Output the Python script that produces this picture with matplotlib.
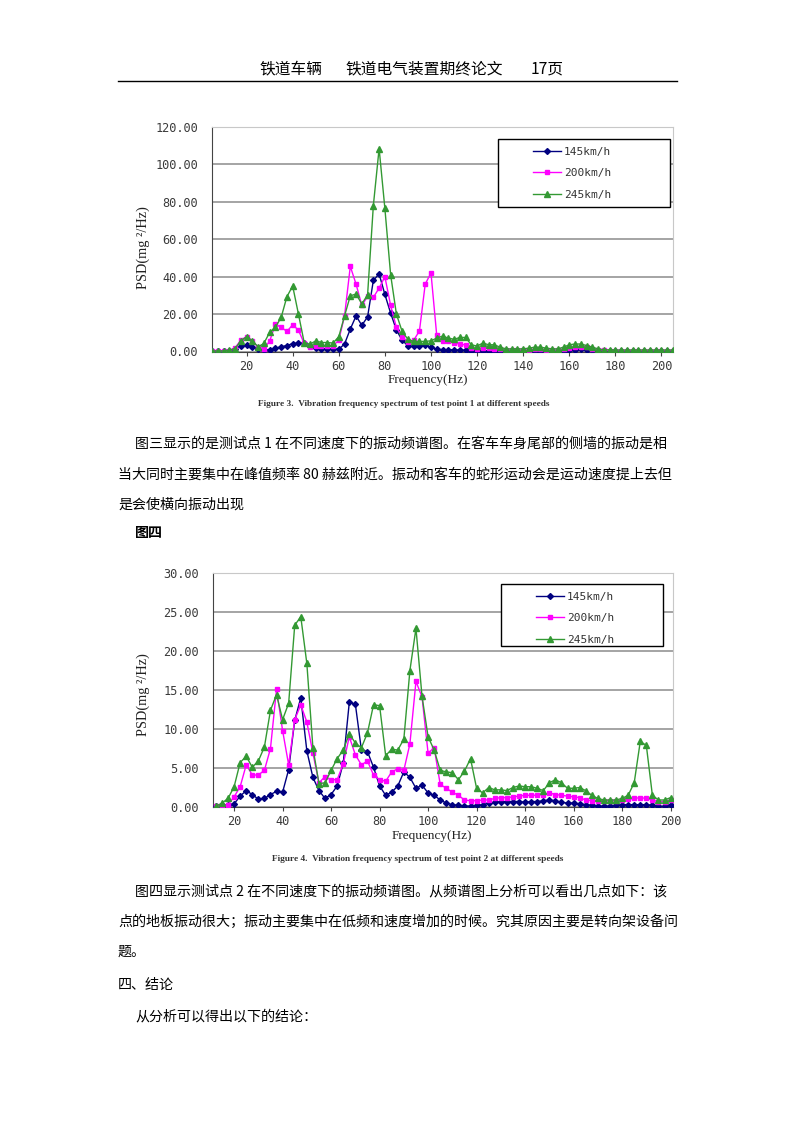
import matplotlib
matplotlib.use("Agg")
import matplotlib.pyplot as plt
from matplotlib.patches import Rectangle

plt.rcParams['font.family'] = ['Noto Sans CJK SC', 'DejaVu Sans']

W, H = 794, 1123

# ---- data: figure 3 (test point 1) ----
freq1 = [5.0, 7.5, 10.0, 12.5, 15.0, 17.5, 20.0, 22.5, 25.0, 27.5,
         30.0, 32.5, 35.0, 37.5, 40.0, 42.5, 45.0, 47.5, 50.0, 52.5,
         55.0, 57.5, 60.0, 62.5, 65.0, 67.5, 70.0, 72.5, 75.0, 77.5,
         80.0, 82.5, 85.0, 87.5, 90.0, 92.5, 95.0, 97.5, 100.0, 102.5,
         105.0, 107.5, 110.0, 112.5, 115.0, 117.5, 120.0, 122.5, 125.0, 127.5,
         130.0, 132.5, 135.0, 137.5, 140.0, 142.5, 145.0, 147.5, 150.0, 152.5,
         155.0, 157.5, 160.0, 162.5, 165.0, 167.5, 170.0, 172.5, 175.0, 177.5,
         180.0, 182.5, 185.0, 187.5, 190.0, 192.5, 195.0, 197.5, 200.0, 202.5, 205.0]
p1_145 = [0.2, 0.2, 0.2, 0.3, 1.5, 3.0, 3.5, 2.5, 1.2, 0.8,
          1.0, 1.8, 2.5, 3.2, 4.2, 4.5, 4.3, 2.8, 1.8, 1.5,
          1.5, 1.2, 1.2, 4.0, 12.0, 19.0, 14.0, 18.5, 38.0, 41.5,
          30.5, 20.5, 11.5, 6.0, 3.0, 2.7, 2.7, 3.5, 2.2, 1.2,
          1.0, 1.0, 0.8, 0.8, 0.6, 0.5, 0.5, 0.5, 0.4, 0.4,
          0.4, 0.3, 0.3, 0.3, 0.3, 0.4, 0.5, 0.5, 0.4, 0.3,
          0.3, 0.5, 0.8, 1.0, 1.1, 1.0, 0.8, 0.5, 0.4, 0.3,
          0.3, 0.3, 0.3, 0.2, 0.2, 0.2, 0.2, 0.2, 0.2, 0.2, 0.2]
p1_200 = [0.3, 0.3, 0.3, 0.5, 2.0, 6.0, 8.0, 5.5, 2.5, 1.5,
          5.5, 14.5, 13.0, 10.7, 14.3, 11.4, 4.3, 2.5, 3.0, 3.0,
          3.0, 3.0, 6.0, 19.0, 45.5, 36.0, 24.6, 29.4, 28.9, 33.9,
          40.0, 24.6, 12.9, 8.0, 5.0, 6.0, 11.0, 36.0, 42.0, 8.6,
          5.7, 5.5, 4.5, 4.0, 3.5, 2.0, 1.5, 2.0, 1.8, 1.5,
          1.2, 1.0, 0.8, 0.8, 0.8, 1.0, 1.2, 1.2, 1.0, 0.8,
          0.8, 1.2, 2.0, 2.5, 2.5, 2.5, 1.5, 1.0, 0.8, 0.5,
          0.5, 0.5, 0.5, 0.5, 0.5, 0.5, 0.5, 0.5, 0.5, 0.5, 0.5]
p1_245 = [0.3, 0.3, 0.3, 0.8, 1.5, 5.7, 7.9, 5.7, 2.5, 4.3,
          10.2, 13.0, 18.2, 29.3, 35.0, 20.0, 4.8, 3.9, 5.7, 4.8,
          4.8, 4.5, 7.9, 19.0, 29.8, 30.7, 25.4, 30.3, 78.0, 108.5,
          76.5, 41.0, 20.0, 10.7, 6.5, 5.4, 5.4, 5.4, 5.7, 7.2,
          8.2, 7.2, 6.5, 7.5, 7.5, 3.6, 2.9, 4.5, 3.6, 3.6,
          2.3, 1.4, 1.4, 1.4, 1.4, 1.8, 2.3, 2.3, 1.8, 1.4,
          1.4, 2.3, 3.6, 4.0, 4.0, 3.2, 2.3, 1.4, 0.9, 0.9,
          0.8, 0.8, 0.8, 0.8, 0.8, 0.8, 0.8, 0.8, 0.8, 0.8, 0.8]

# ---- data: figure 4 (test point 2) ----
freq2 = [12.5, 15.0, 17.5, 20.0, 22.5, 25.0, 27.5, 30.0, 32.5, 35.0,
         37.5, 40.0, 42.5, 45.0, 47.5, 50.0, 52.5, 55.0, 57.5, 60.0,
         62.5, 65.0, 67.5, 70.0, 72.5, 75.0, 77.5, 80.0, 82.5, 85.0,
         87.5, 90.0, 92.5, 95.0, 97.5, 100.0, 102.5, 105.0, 107.5, 110.0,
         112.5, 115.0, 117.5, 120.0, 122.5, 125.0, 127.5, 130.0, 132.5, 135.0,
         137.5, 140.0, 142.5, 145.0, 147.5, 150.0, 152.5, 155.0, 157.5, 160.0,
         162.5, 165.0, 167.5, 170.0, 172.5, 175.0, 177.5, 180.0, 182.5, 185.0,
         187.5, 190.0, 192.5, 195.0, 197.5, 200.0]
p2_145 = [0.1, 0.2, 0.3, 0.4, 1.4, 2.1, 1.6, 1.0, 1.1, 1.6,
          2.0, 1.9, 4.8, 11.1, 14.0, 7.2, 3.8, 2.1, 1.1, 1.6,
          2.7, 5.6, 13.4, 13.2, 7.3, 7.1, 5.1, 2.7, 1.5, 1.9,
          2.7, 4.5, 3.8, 2.4, 2.8, 1.8, 1.5, 0.9, 0.5, 0.3,
          0.2, 0.15, 0.1, 0.2, 0.3, 0.5, 0.6, 0.7, 0.7, 0.7,
          0.7, 0.6, 0.7, 0.7, 0.8, 0.9, 0.8, 0.6, 0.5, 0.5,
          0.4, 0.3, 0.2, 0.1, 0.1, 0.1, 0.2, 0.3, 0.3, 0.3,
          0.3, 0.3, 0.2, 0.1, 0.1, 0.3]
p2_200 = [0.1, 0.1, 0.3, 1.3, 2.6, 5.4, 4.1, 4.1, 4.7, 7.5,
          15.1, 9.8, 5.4, 11.2, 13.1, 10.9, 6.9, 3.1, 3.9, 3.5,
          3.5, 5.5, 9.0, 6.7, 5.4, 5.9, 4.1, 3.5, 3.3, 4.5,
          4.9, 4.7, 8.1, 16.1, 14.1, 6.9, 7.6, 2.9, 2.4, 1.9,
          1.5, 0.9, 0.8, 0.8, 0.9, 0.9, 1.1, 1.2, 1.2, 1.3,
          1.4, 1.5, 1.5, 1.5, 1.6, 1.8, 1.6, 1.5, 1.4, 1.3,
          1.2, 0.9, 0.8, 0.8, 0.8, 0.8, 0.8, 0.9, 1.0, 1.1,
          1.2, 1.1, 0.9, 0.7, 0.7, 0.9]
p2_245 = [0.1, 0.5, 1.1, 2.6, 5.7, 6.5, 5.1, 5.9, 7.7, 12.4,
          14.4, 11.2, 13.3, 23.3, 24.4, 18.4, 7.6, 3.0, 3.1, 4.7,
          6.2, 7.3, 9.4, 8.2, 7.6, 9.5, 13.1, 13.0, 6.6, 7.4,
          7.3, 8.7, 17.5, 22.9, 14.2, 9.0, 7.3, 4.7, 4.5, 4.4,
          3.5, 4.6, 6.2, 2.4, 1.8, 2.5, 2.2, 2.2, 2.1, 2.5,
          2.7, 2.6, 2.6, 2.4, 2.1, 3.1, 3.5, 3.1, 2.4, 2.4,
          2.5, 2.1, 1.5, 1.1, 0.9, 0.9, 0.9, 1.1, 1.5, 3.1,
          8.4, 7.9, 1.5, 0.9, 0.9, 1.2]

speeds = ['145km/h', '200km/h', '245km/h']
colors = ['#000080', '#ff00ff', '#339933']
markers = ['D', 's', '^']
msizes = [3, 3.5, 4]
xticks = [20, 40, 60, 80, 100, 120, 140, 160, 180, 200]
yticks1 = [0, 20, 40, 60, 80, 100, 120]
yticks2 = [0, 5, 10, 15, 20, 25, 30]

fig = plt.figure(figsize=(W / 100, H / 100), dpi=100)


def fx(x):
    return x / W


def fy(y):
    return 1 - y / H


def ftext(x, y, s, **kw):
    fig.text(fx(x), fy(y), s, **kw)


def chart(box, freq, series, yticks, xlim, legbox):
    l, t, r, b = box
    ax = fig.add_axes([fx(l), fy(b), fx(r - l), (b - t) / H])
    for vals, c, m, ms, lab in zip(series, colors, markers, msizes, speeds):
        ax.plot(freq, vals, color=c, lw=1.0, marker=m, ms=ms, mfc=c, mec=c,
                label=lab, zorder=3)
    ax.set_xlim(*xlim)
    ax.set_ylim(yticks[0], yticks[-1])
    ax.set_yticks(yticks)
    ax.set_yticklabels(['%.2f' % v for v in yticks])
    ax.set_xticks(xticks)
    ax.set_xticklabels([str(v) for v in xticks])
    ax.yaxis.grid(True, color='#8c8c8c', lw=1.1)
    ax.set_axisbelow(True)
    for lab in ax.get_xticklabels() + ax.get_yticklabels():
        lab.set_family('DejaVu Sans Mono')
        lab.set_fontsize(8.6)
        lab.set_color('#3a3a3a')
    ax.tick_params(axis='y', length=0, pad=10)
    ax.tick_params(axis='x', length=3, pad=3, color='#444444')
    ax.spines['left'].set_color('#444444')
    ax.spines['bottom'].set_color('#444444')
    ax.spines['top'].set_color('#c8c8c8')
    ax.spines['right'].set_color('#c8c8c8')
    # legend box
    x0, y0, x1, y1 = legbox
    ax.add_patch(Rectangle((fx(x0), fy(y1)), fx(x1 - x0), (y1 - y0) / H,
                           transform=fig.transFigure, facecolor='white',
                           edgecolor='black', lw=1, zorder=4, clip_on=False))
    leg = ax.legend(loc='upper left', bbox_to_anchor=(fx(x0 + 26), fy(y0 - 1)),
                    bbox_transform=fig.transFigure, frameon=False, numpoints=1,
                    handlelength=2.5, handletextpad=0.3, labelspacing=1.02,
                    borderpad=0.3, prop={'family': 'DejaVu Sans Mono', 'size': 8})
    leg.set_zorder(5)
    for txt in leg.get_texts():
        txt.set_color('#333333')
    return ax


chart((212, 127, 673, 351.5), freq1, [p1_145, p1_200, p1_245], yticks1,
      (5.0, 205.0), (498, 139, 670, 207))
chart((213, 573, 673, 807), freq2, [p2_145, p2_200, p2_245], yticks2,
      (11.3, 201.0), (501, 584, 663, 646))

serif = ['Liberation Serif', 'DejaVu Serif']
ftext(428, 380, 'Frequency(Hz)', family=serif, fontsize=9.5, ha='center', va='center', color='#222222')
ftext(143, 248, 'PSD(mg \u00b2/Hz)', family=serif, fontsize=10.3, ha='center', va='center',
      rotation=90, color='#222222')
ftext(404, 404, 'Figure 3.  Vibration frequency spectrum of test point 1 at different speeds',
      family=serif, fontsize=6.7, weight='bold', ha='center', va='center', color='#333333')
ftext(432, 836, 'Frequency(Hz)', family=serif, fontsize=9.5, ha='center', va='center', color='#222222')
ftext(143, 695, 'PSD(mg \u00b2/Hz)', family=serif, fontsize=10.3, ha='center', va='center',
      rotation=90, color='#222222')
ftext(418, 859, 'Figure 4.  Vibration frequency spectrum of test point 2 at different speeds',
      family=serif, fontsize=6.7, weight='bold', ha='center', va='center', color='#333333')

# ---- page header ----
hdr = 11.3
ftext(259, 69, '铁道车辆', fontsize=hdr, va='center')
ftext(346, 69, '铁道电气装置期终论文', fontsize=hdr, va='center')
ftext(531, 69, '17页', fontsize=hdr, va='center')
fig.add_artist(plt.Line2D([fx(118), fx(677)], [fy(81), fy(81)], color='black', lw=1))

# ---- body text ----
body = 10.1
ftext(135, 444, '图三显示的是测试点 1 在不同速度下的振动频谱图。在客车车身尾部的侧墙的振动是相',
      fontsize=body, va='center')
ftext(118, 475, '当大同时主要集中在峰值频率 80 赫兹附近。振动和客车的蛇形运动会是运动速度提上去但',
      fontsize=body, va='center')
ftext(118, 505, '是会使横向振动出现', fontsize=body, va='center')
ftext(135, 533, '图四', fontsize=body, va='center', weight='bold')
ftext(135, 891, '图四显示测试点 2 在不同速度下的振动频谱图。从频谱图上分析可以看出几点如下：该',
      fontsize=body, va='center')
ftext(118, 922, '点的地板振动很大；振动主要集中在低频和速度增加的时候。究其原因主要是转向架设备问',
      fontsize=body, va='center')
ftext(118, 952, '题。', fontsize=body, va='center')
ftext(118, 985, '四、结论', fontsize=body, va='center')
ftext(135, 1016, '从分析可以得出以下的结论：', fontsize=body, va='center')

fig.savefig('out.png', dpi=100)
